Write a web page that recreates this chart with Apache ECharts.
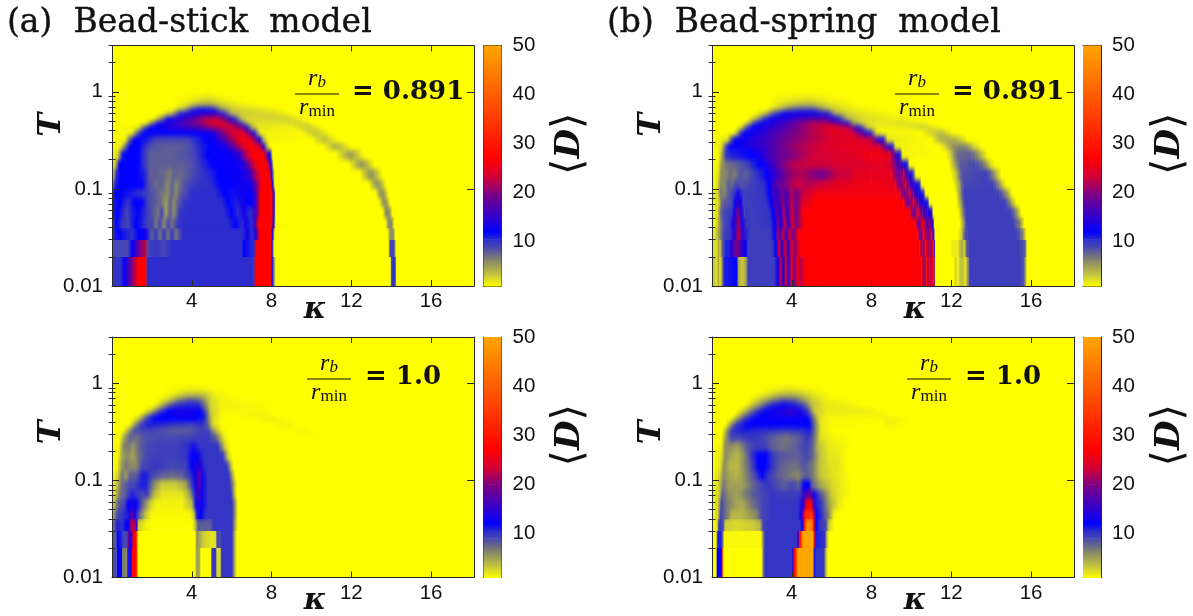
<!DOCTYPE html>
<html><head><meta charset="utf-8">
<style>html,body{margin:0;padding:0;background:#fff}#c{width:1193px;height:616px}</style>
<script src="https://cdn.jsdelivr.net/npm/echarts@6/dist/echarts.min.js"></script>
</head><body>
<svg width="0" height="0" style="position:absolute"><filter id="soft" x="-2%" y="-5%" width="104%" height="110%" color-interpolation-filters="sRGB"><feGaussianBlur stdDeviation="0.5 2.6"/></filter><filter id="crisp" x="-2%" y="-5%" width="104%" height="110%" color-interpolation-filters="sRGB"><feGaussianBlur stdDeviation="0.4 0.4"/></filter></svg>
<div id="c"></div>
<script>
// Lower and upper edge of every temperature row (shared by the four maps)
const tEdges=[.01,.02,.03,.04,.05,.065,.08,.1,.125,.16,.2,.25,.3,.35,.4,.45,.5,.56,.63,.7,.79,.9,1];
// Each row: kappa,D,kappa,D,... read along that temperature row
const rowsA=[
[0,10,.4,10,.6,12,1,20,1.3,27,1.72,27,1.74,10.5,7.08,10.5,7.2,27,7.95,27,8.02,12,8.1,7,8.2,1,13.95,1,14,10,14.2,10,14.25,1],
[0,9,.8,9,1,12,1.3,18,1.72,23,1.74,9,2.2,10,2.6,9,3,10.5,6.5,10.5,6.6,12,7.1,10.5,7.25,27,7.95,27,8.02,12,8.12,1,13.85,1,13.93,9,14.15,9,14.22,1],
[0,10,.3,12,1,10,1.3,12,1.7,13,1.9,9,2,8,2.2,10,2.4,7,2.6,10,2.8,7,3,10,3.2,7,3.5,10,3.6,10.5,6.5,10.5,6.8,13,7,10.5,7.2,14,7.4,27,7.95,27,8.05,12,8.15,1,13.8,1,13.95,6,14.1,6,14.2,1],
[0,9,.2,12,.5,10,.8,9,1,11,1.2,12,1.5,11,1.8,9,2,9,2.2,7,2.4,9,2.6,6,2.8,9,3,7,3.3,10,3.6,10.5,5.8,10.5,6.2,12,6.5,10.5,6.7,13,7,10.5,7.15,16,7.35,27,7.98,27,8.1,12,8.2,1,13.7,1,13.85,6,14.02,6,14.15,1],
[0,11,.3,12,.7,9,1,11,1.3,12,1.7,10,2.1,8,2.3,7,2.5,9,2.7,5,2.9,8,3.1,6,3.4,10,3.9,10.5,5.6,10.5,6,12,6.3,10.5,6.6,13,6.9,10.5,7.2,16,7.45,27,8,27,8.12,12,8.2,1,13.55,1,13.72,6,13.9,6,14.05,1],
[0,11,.4,12,.8,10,1.1,12,1.5,12,1.8,9,2.2,8,2.5,7,2.7,5,2.9,8,3.1,6,3.3,8,3.6,10,4,10.5,5.5,10.5,5.8,12,6.2,11,6.6,13,7,12,7.2,16,7.45,27,8,27,8.12,12,8.2,1,13.38,1,13.58,5.5,13.75,5.5,13.93,1],
[0,8,.1,12,.5,12,1.8,9,2.2,8,2.5,7,2.8,6,3,8,3.2,6,3.4,8,3.7,9,4,10.5,5.2,10.5,5.6,12,6,11.5,6.4,13,6.9,12,7.2,16,7.45,27,8,27,8.12,12,8.2,1,13.2,1,13.42,5.5,13.62,5.5,13.85,1],
[0,5,.15,11,.4,12,1.5,12,1.8,9,2.2,7.5,2.5,8,2.8,6,3,8,3.2,6,3.5,8,3.8,9,4.2,10,5,10.5,5.4,12,6,12,6.4,13,6.9,13,7.2,18,7.5,27,7.95,27,8.05,12,8.15,1,12.85,1,13.2,5.5,13.4,5.5,13.75,1],
[0,2,.2,10,.4,12,1.2,12,1.6,11,1.9,8,2.2,8,2.6,7.5,2.9,6.5,3.1,8,3.4,7.5,3.7,8,4.1,9,4.5,10,5,11,5.3,12,6,12.5,6.5,13,6.9,15,7.2,22,7.5,27,7.9,26,8,12,8.15,1,12.4,1,12.88,5.5,13.08,5.5,13.55,1],
[0,1,.2,5,.35,12,1.3,12,1.6,10,1.9,8,2.3,8,2.7,8,3.1,8,3.5,8,3.9,8.5,4.3,9.5,4.7,11,5,12,6.2,12.5,6.6,14,6.9,20,7.2,26,7.7,27,7.85,22,7.97,12,8.1,1,11.85,1,12.4,5.5,12.6,5.5,13.15,1],
[0,1,.3,3,.5,11,.7,12,1.3,12,1.6,10,1.9,8,2.3,8,3,8,3.6,8.5,4.1,9,4.5,11,4.8,12,5.9,12.5,6.4,15,6.8,23,7.1,27,7.6,27,7.8,16,7.92,12,8.05,1,11.2,1,11.82,5,12.02,5,12.65,1],
[0,1,.45,2,.7,8,.9,12,1.3,12,1.7,10,2,8.5,2.6,8,3.5,8,4,9,4.5,11,4.9,12,5.6,13,6.1,18,6.6,25,7,27,7.4,24,7.6,13,7.75,5,7.9,1,10.55,1,11.15,4.5,11.3,4.5,11.95,1],
[0,1,.65,1.5,.85,7,1.1,12,1.4,12,1.8,11,2.2,9,3,9,3.8,9,4.3,11,4.7,12,5.2,13,5.8,19,6.4,26,6.9,26,7.2,19,7.4,12,7.6,4,7.8,1.5,10,1,10.65,4,11.3,1],
[0,1,1,1.5,1.3,9,1.6,12,2.3,12,3.5,12,4.5,12,5,13,5.5,19,6,24,6.6,25,7,15,7.15,11,7.4,2,7.6,1.5,9.5,1.2,10.2,3.8,10.9,1],
[0,1,1.3,1.5,1.6,8,1.9,12,2.5,13,3.5,15,4.5,18,5.3,22,6,24,6.5,20,6.75,12,7,5,7.3,2,9.1,1.5,9.8,3.5,10.5,1],
[0,1,1.7,1,1.95,6,2.3,12,2.8,14,3.5,17,4.3,20,5,25,5.7,24,6.2,16,6.45,11,6.8,3,7.1,2.2,8.6,2,9.35,3.2,10.1,1],
[0,1,2.1,1,2.4,5,2.8,12,3.4,14,4,17,4.6,22,5.3,23,5.9,14,6.1,11,6.5,3,6.9,2.5,8.8,3,9.6,1],
[0,1,2.5,1,3,4,3.4,11,4,13,4.6,14,5.2,14,5.6,11,6,4,6.5,3,8.2,2.5,9,1],
[0,1,3,1,3.6,4,4,10,4.5,12,5.1,11,5.5,5,6.1,3,7.5,2,8.5,1],
[0,1,3,1,3.7,2,4.3,4.5,4.9,5,5.5,3,6.5,1.5,7.5,1],
[0,1,3,1,4,1.5,4.8,2.5,5.5,1.5,6.5,1],
[0,1,3.5,1,4.8,1.3,6,1]];
const rowsB=[
[0,1,.1,4,.2,1.5,.3,5,.4,2,.5,6,.6,11,1.25,12,1.3,5,1.5,3,1.7,5,1.8,9.5,3.1,9.5,3.3,12,3.45,25,3.55,12,3.7,26,3.8,13,4,27,4.1,18,4.3,27,4.4,22,4.7,27,10.5,27,10.65,20,10.75,27,10.9,22,11.1,27,11.15,20,11.2,1,12.1,1,12.2,3,12.3,1.5,12.5,4,12.7,2,12.85,7,12.92,9.5,15.5,9.5,15.65,8,15.78,1],
[0,1,.1,3,.2,1.5,.3,5,.4,3,.5,8,.7,11,.85,11,.95,14,1.2,20,1.5,15,1.7,12,1.8,9.5,3,9.5,3.2,12,3.35,24,3.5,13,3.65,25,3.8,14,4,26,4.15,20,4.4,27,10.4,27,10.55,20,10.7,27,10.9,20,11.1,27,11.15,14,11.2,1,11.9,1,12.1,2,12.3,1.5,12.5,5,12.65,3,12.75,8,12.85,9.5,15.45,9.5,15.7,8,15.78,1],
[0,1,.2,3,.4,6,.6,9.5,.9,10,1.1,14,1.3,22,1.5,16,1.7,11,1.9,9.5,2.9,9.5,3.15,12,3.3,22,3.4,14,3.55,24,3.7,15,3.9,25,4.05,18,4.3,26,4.7,27,10.3,27,10.45,17,10.6,27,10.8,18,11,24,11.1,12,11.18,1,12.3,1,12.5,3,12.65,8,12.8,9.5,15.3,9.5,15.6,6,15.75,1],
[0,1,.2,2,.4,6,.6,9,.9,10,1.05,13,1.3,21,1.5,14,1.72,10,2,9.5,2.9,10,3.12,12,3.3,20,3.45,13,3.65,23,3.8,15,4.05,24,4.2,19,4.6,27,10.2,27,10.35,17,10.55,27,10.75,18,10.95,20,11.08,12,11.15,1,12.4,1,12.6,5,12.75,9.5,15.1,9.5,15.45,6,15.65,1],
[0,1,.3,3,.4,7,.6,9,1,10,1.1,13,1.3,20,1.45,14,1.62,10,1.9,9.5,2.85,10,3.05,12,3.25,18,3.4,14,3.6,22,3.75,14,4,24,4.2,18,4.5,26,5,27,9.9,27,10.1,16,10.3,26,10.55,17,10.8,15,11,12,11.08,1,12.35,1,12.55,6,12.7,9.5,15,9.5,15.3,5,15.5,1],
[0,1,.35,3,.45,7,.6,8,1,9,1.15,12,1.3,15,1.45,12,1.55,9.5,2.7,10,2.95,12,3.15,17,3.3,14,3.55,21,3.7,15,4,23,4.2,18,4.5,24,5.2,27,9.6,27,9.8,16,10.1,25,10.35,16,10.6,13,10.82,11,10.9,1,12.25,1,12.5,6,12.65,9.5,14.7,9.5,15,5,15.25,1],
[0,1,.3,3,.4,7,.6,6,.8,8,1,9,1.2,11,1.3,13,1.4,11,1.6,9.5,2.6,10,2.9,12,3.05,16,3.25,15,3.5,19,3.7,16,4,22,4.2,19,4.6,23,5.3,26,9.4,26,9.6,17,9.9,24,10.1,17,10.35,13,10.6,11,10.7,1,12.2,1,12.45,6,12.6,9.5,14.4,9.5,14.8,5,15.05,1],
[0,1,.25,2,.4,6,.6,6,.8,8,1,7.5,1.2,9,1.5,8.5,1.8,9,2.6,10.5,2.85,12,3,15,3.3,18,3.6,19,4,22,4.3,23,4.8,22,5.3,23,5.8,24,6.5,25,8,26,9.2,25,9.4,18,9.7,24,9.9,17,10.15,13,10.4,11,10.5,1,12.1,1,12.4,5,12.6,9,14.1,9.5,14.5,4,14.75,1],
[0,1,.3,2,.45,6,.7,6,.9,7.5,1.1,6.5,1.4,8.5,1.7,8,2.1,9.5,2.5,11,2.75,12,3,14,3.4,17,4,21,4.5,22,5.1,20,5.5,19,5.9,21,6.3,23,6.8,23,7.2,25,8,25,9,25,9.3,18,9.6,22,9.85,14,10.05,11,10.22,1,11.95,1,12.25,4,12.5,8.5,13.8,9.5,14.2,5,14.5,1],
[0,1,.3,1.5,.45,5,.7,7,1,7.5,1.5,8.5,1.9,10,2.35,12,2.65,13,3.2,17,4,22,4.8,23,5.5,23,6.5,24,7.5,24,8.5,25,8.9,24,9.2,19,9.45,16,9.6,13,9.78,11,9.9,1,11.85,1,12.1,4,12.4,8,13.2,9,13.6,7,14,2,14.2,1],
[0,1,.3,1,.5,5,.7,10,1,11,1.5,11.5,1.9,12,2.3,13,3,17,4,20,5,23,6,24,7,24.5,8,26,8.9,25,9.25,14,9.43,11,9.55,1.5,11.7,1,11.95,3,12.25,7.5,13,8,13.4,5,13.8,1],
[0,1,.45,2,.65,8,.85,12,1.5,13,2.5,15,3.5,19,4.5,22,5.5,24,6.5,25,7.5,25,8.4,24,8.85,14,9.05,11,9.2,1.5,11.4,1,11.7,3,12.1,6,12.7,6.5,13.1,3,13.5,1],
[0,1,.75,2,.95,8,1.15,12,2,14,3,17,4,20,5,22,6,24,7,25,7.9,23,8.4,13,8.6,11,8.8,2,11,1,11.35,4,11.8,5,12.3,4,12.8,1],
[0,1,1,1,1.2,3,1.4,9,1.6,12,2.4,14,3.2,17,4,19,5,22,6,25,7,24,7.7,14,7.95,11,8.25,2,8.5,1.5,10.5,1,11,3,11.5,4,12,1.5,12.4,1],
[0,1,1.2,1,1.5,3,1.75,10,2.05,12,3,15,4,18,5,22,6,25,6.8,23,7.25,14,7.45,11,7.8,3,8.3,1.5,9,1.5,10,2,10.6,3,11.1,2,11.6,1],
[0,1,1.5,1,1.8,3,2.1,10,2.4,12,3,14,4,18,5,22,5.8,22,6.4,17,6.8,12,7.1,5,7.5,2.5,8.5,2,9.5,2.5,10.2,2,11,1],
[0,1,1.8,1,2.2,4,2.6,10,3,12,4,15,5,17,5.7,17,6.1,13,6.35,11,6.8,4,7.5,2.5,8.5,2,9.5,1.5,10.5,1],
[0,1,2.2,1,2.7,4,3.1,9,3.6,12,4.4,13,5.2,13,5.8,11,6.2,5,6.7,3,7.5,2,8.5,1.5,9.5,1],
[0,1,2.7,1,3.3,3.5,3.8,7,4.4,9,5,9,5.5,6,6,3,7,1.8,8.5,1],
[0,1,2.8,1,3.5,2.5,4.4,4,5,4,5.8,2.5,7,1.3,8,1],
[0,1,2.8,1,3.8,1.7,4.8,2.2,5.8,1.5,7,1],
[0,1,3.2,1,4.6,1.3,6,1]];
const rowsC=[
[0,9,.22,9,.25,12,.48,12,.52,7,.72,6,.76,11,.95,13,1,27,1.22,29,1.3,1,4.15,1,4.22,5,4.38,5,4.45,1,4.95,1,5,10,5.2,10,5.25,2.5,5.42,2.5,5.47,10,6,10,6.15,4,6.25,1],
[0,9,.2,8,.25,12,.45,11,.55,9,.75,9,.8,20,.95,12,1.05,27,1.2,28,1.3,1.5,1.4,1,4.15,1,4.25,6,4.55,3,5,2,5.2,2.5,5.25,9,5.42,9,5.5,10,6,10,6.15,4,6.25,1],
[0,7,.1,8,.25,11,.5,10,.7,12,.85,14,.95,22,1.15,22,1.25,13,1.3,3,1.7,1.5,2,1.1,4,1.1,4.15,3,4.3,8,4.9,8,5.1,10,6,10,6.15,5,6.3,1],
[0,3,.1,6,.25,9,.5,10,.75,11,.9,15,1,18,1.15,14,1.25,10,1.35,8,1.7,3,2,1.2,3.9,1.2,4.1,3,4.25,11,4.45,12,4.7,10,6,10,6.15,6,6.3,1],
[0,2,.15,5,.3,8,.6,9,.8,12,1,13,1.2,12,1.5,8,1.9,3,2.2,1.5,3.5,1.5,4,4,4.2,12,4.35,15,4.5,12,4.8,10,6,10,6.15,6,6.3,1],
[0,1,.2,4,.4,7,.65,8,.85,10,1,11,1.2,10,1.5,9,1.75,9.5,2.1,4,2.5,2,3.5,2,3.9,5,4.15,11,4.3,16,4.5,13,4.8,10,5.95,10,6.1,5,6.25,1],
[0,1,.2,3,.45,7,.65,8,.85,9,1.1,9,1.45,11,1.7,11,2.1,6,2.5,3,3.2,3,3.7,5,4,10,4.2,13,4.35,18,4.5,13,4.8,10,5.9,10,6.1,5,6.25,1],
[0,1,.25,2.5,.5,7,.7,5,.9,8,1.2,8,1.5,11,1.75,11,2,9,2.5,8,3,7.5,3.5,8,3.9,10,4.15,13,4.35,18,4.5,13,4.8,10,5.85,10,6.05,4,6.2,1],
[0,1,.25,1.5,.45,5,.7,7,.9,6,1.2,6,1.5,9,1.75,9,2.1,10,3,9,3.7,9.5,4,12,4.2,14,4.4,14,4.7,10,5.75,10,5.95,4,6.1,1],
[0,1,.3,1.5,.5,5,.75,6,1.05,5,1.3,7,1.7,9,2.2,9.5,3,9.5,3.7,10,4,12,4.3,12.5,4.6,10,5.55,10,5.8,3,6,1],
[0,1,.35,1.5,.55,6,.8,7,1.05,5.5,1.4,8,1.8,9,2.5,9.5,3.3,9.5,3.8,10.5,4.1,11.5,4.4,10,5.3,10,5.65,3,5.9,1],
[0,1,.35,1,.6,5,.9,8,1.2,7,1.6,8.5,2.4,9,3.3,9,3.9,9.5,4.8,10,5.2,8,5.55,2.5,5.8,1,10,1,10.3,1.2,10.6,1],
[0,1,.55,1,.8,5,1.1,9,1.5,9,2.1,9,3,8,3.8,8,4.5,9.5,4.85,9,5.2,4,5.5,1.5,5.8,1,9,1,9.6,1.4,10.1,1],
[0,1,.85,1,1.1,5,1.4,9.5,1.8,11,2.5,10.5,3.2,9.5,4,9,4.5,10,4.8,8,5,3,5.4,1.2,6,1,8,1,8.7,1.6,9.3,1],
[0,1,1,1,1.35,4,1.7,10,2.1,12,2.8,12,3.5,12,4.2,12,4.6,11,4.85,6,5.1,2,5.6,1,7.2,1,8,1.7,8.7,1],
[0,1,1.3,1,1.6,4,2,10,2.4,12,3,13,4,13,4.5,12,4.75,8.5,4.95,3.5,5.5,1.2,6.3,1.2,7.4,1.8,8.1,1],
[0,1,1.6,1,2,3.5,2.4,9,2.8,12,3.3,13,4,13.5,4.4,12,4.7,8,4.95,3,5.5,1.3,7,1.3,8,1],
[0,1,2,1,2.4,3,2.8,8,3.2,10.5,3.8,11,4.3,11,4.65,7,4.9,3,5.5,1.5,6.5,1.4,7.5,1.2,8.5,1],
[0,1,2.2,1,2.8,3,3.3,7,3.9,9,4.4,8,4.7,5,5,2.5,5.5,1.5,7,1.1,8,1],
[0,1,2.4,1,3.1,2,3.7,4,4.3,4.5,4.7,3.5,5.1,1.8,6,1],
[0,1,2.5,1,3.3,1.4,4,2,4.6,1.8,5.2,1.2,6,1],
[0,1,3,1,4,1.2,5,1]];
const rowsD=[
[0,1,.2,1,.25,12,.45,12,.5,25,.57,1,2.47,1,2.55,6,2.62,10,4,10,4.05,14,4.1,27,4.2,34,4.3,50,5.05,50,5.12,12,5.2,10,5.6,10,5.7,4,5.8,1],
[0,1,.2,1,.27,11,.45,11,.55,6,.6,1.3,2.45,1.3,2.55,6,2.65,10,4.25,10,4.3,12,4.38,27,4.47,35,4.55,50,5.05,50,5.12,25,5.2,11,5.65,10,5.75,4,5.85,1],
[0,1,.25,2,.33,10,.55,9,.65,3,1.2,2.5,2,3,2.4,4,2.55,9,2.8,10,4.4,10,4.55,12,4.6,28,4.75,46,5,46,5.1,28,5.2,12,5.4,10,5.7,9,5.85,3,6.1,1],
[0,1,.3,3,.4,9,.6,8,.9,5,1,4,1.5,4,2.2,6,2.5,9,3,10,4.3,10,4.45,12,4.6,24,4.7,33,5,35,5.1,24,5.2,12,5.5,10,5.85,6,6.1,1.5,6.4,1],
[0,1,.3,3,.45,9,.7,7,1.2,5,1.5,4.5,2,7,2.5,9,3,10,4.3,10,4.5,13,4.65,20,4.75,27,4.95,28,5.1,16,5.25,11,5.5,9.5,5.85,5,6.3,2,6.7,1],
[0,1,.35,3,.5,8,.8,6,1.2,5,1.5,6,2,8,2.5,9,3,10,4,9.5,4.4,10,4.6,16,4.95,18,5.1,13,5.3,10,5.7,6,6,3,6.5,1.7,7,1],
[0,1,.35,3,.55,7,.85,5,1.2,5,1.5,5,1.9,7,2.4,9,2.8,10,3.6,8,4,9,4.35,8,4.6,12,4.85,12,5,8,5.4,5,6,2.6,6.5,1.7,7,1],
[0,1,.4,3,.55,6,.85,5,1.2,4,1.5,5,1.8,7,2.2,9.5,2.5,12,2.8,10,3.3,8,3.8,7,4.3,6,4.7,8,5,7,5.4,3.5,6,2.2,6.5,1.7,6.9,1],
[0,1,.4,2,.6,6,.9,4,1.3,4,1.6,6,1.9,8,2.3,12,2.65,12,3,10,3.4,8,3.8,7.5,4.2,7,4.6,8.5,5,7,5.4,3.5,5.9,2.2,6.3,2,6.8,1],
[0,1,.45,2,.65,6,.9,5,1.3,4,1.6,6,1.9,9,2.3,12,2.7,12,3,10,3.4,8.5,3.9,8,4.3,8,4.7,9,5,8,5.4,3.5,5.9,2,6.3,1.9,6.8,1],
[0,1,.45,1.5,.65,6,.9,6,1.3,5,1.7,8,2.1,9.5,2.6,9.5,3,8,3.6,7,4.2,8,4.7,9.5,5,8,5.3,4,5.8,2,6.5,1.5,7,1],
[0,1,.45,1,.65,5,.95,9,1.4,9,1.9,10,2.5,9.5,3,8,3.7,7,4.3,8,4.8,10,5.1,7.5,5.4,2.5,6,1.5,7,1],
[0,1,.5,1,.75,6,1,10.5,1.6,11,2.3,10.5,3,10,3.7,9.5,4.4,10,4.9,11,5.15,7,5.45,2,6,1],
[0,1,.65,1,.9,5,1.2,10,1.7,12,2.5,12,3.3,12,4.2,12,4.9,12,5.15,7,5.45,2,6,1.2,8.5,1,8.9,1.5,9.3,1.3,9.8,1],
[0,1,.9,1,1.2,5,1.6,10,2.1,12,3,12.5,4,12.5,4.8,12,5.1,7,5.4,2,6,1.3,8.4,1,8.7,1.6,9.5,1.4,10,1],
[0,1,1.1,1,1.5,5,1.9,9.5,2.4,12,3,13,3.9,14.5,4.6,13,4.95,9,5.25,3,5.8,1.5,7.5,1.4,8.4,1.7,9,1],
[0,1,1.3,1,1.8,5,2.2,9,2.7,12,3.2,13,3.8,15,4.4,13,4.8,9,5.1,3,5.8,1.8,7,1.8,7.8,1.8,8.4,1],
[0,1,1.6,1,2.1,4,2.6,8,3,11,3.6,12,4.2,11,4.6,9,5,4,5.6,2,6.8,1.7,7.5,1],
[0,1,1.8,1,2.4,3.5,3,7,3.6,9,4.2,8,4.6,5.5,5,3,5.8,1.6,7,1],
[0,1,2,1,2.8,2.5,3.4,4.5,4,4.8,4.6,3.5,5.2,2,6,1],
[0,1,2.3,1,3,1.6,3.7,2.4,4.4,2,5,1.5,5.8,1],
[0,1,2.8,1,3.7,1.3,4.8,1]];

// Axes and colour scale
const xTickLabels=[4,8,12,16];
const yTickLabels=[0.01,0.1,1];
const yMinorTicks=[.02,.03,.04,.05,.06,.07,.08,.09,.2,.3,.4,.5,.6,.7,.8,.9,2,3];
const cbTickLabels=[10,20,30,40,50];
const paletteD=[1,3,6.5,9,10.5,12,20,23,27,50];
const paletteRGB=[[255,255,0],[205,205,55],[128,128,110],[70,70,180],[45,45,205],[0,0,255],[128,0,128],[205,0,60],[255,0,0],[255,165,0]];
const backgroundCell=[0,18.15,.01,3,1,1];

function colorOf(d){
  for(let i=1;i<paletteD.length;i++){
    if(d<=paletteD[i]){
      const f=(d-paletteD[i-1])/(paletteD[i]-paletteD[i-1]);
      const a=paletteRGB[i-1],b=paletteRGB[i];
      return 'rgb('+a.map((v,k)=>Math.round(v+(b[k]-v)*Math.max(f,0))).join(',')+')';
    }
  }
  return 'rgb(255,165,0)';
}
function segmentsOf(rows,from,to){
  const out=[];
  rows.forEach((r,i)=>{
    if(i<from||i>=to)return;
    for(let k=0;k+3<r.length;k+=2){
      out.push([r[k],r[k+2],tEdges[i],tEdges[i+1],r[k+1],r[k+3]]);
    }
  });
  return out;
}
function renderCell(params,api){
  const a=api.coord([api.value(0),api.value(2)]);
  const b=api.coord([api.value(1),api.value(3)]);
  const x0=a[0],x1=b[0]+.4,y0=Math.round(b[1]),y1=Math.round(a[1]);
  return {type:'rect',shape:{x:x0,y:y0,width:Math.max(x1-x0,.5),height:y1-y0},
    style:{fill:new echarts.graphic.LinearGradient(0,0,1,0,[{offset:0,color:colorOf(api.value(4))},{offset:1,color:colorOf(api.value(5))}])},silent:true};
}
function renderBar(params,api){
  const a=api.coord([0,api.value(0)]);
  const b=api.coord([1,api.value(1)]);
  return {type:'rect',shape:{x:a[0],y:b[1],width:b[0]-a[0],height:a[1]-b[1]+.5},
    style:{fill:new echarts.graphic.LinearGradient(0,0,0,1,[{offset:0,color:colorOf(api.value(1))},{offset:1,color:colorOf(api.value(0))}])},silent:true};
}

const panels=[
 {rows:rowsA,left:112,top:45.5,cb:483.5,tShift:82,dShift:44},
 {rows:rowsB,left:712,top:45.5,cb:1083,tShift:82,dShift:44},
 {rows:rowsC,left:112,top:337,cb:483.5,tShift:50,dShift:44},
 {rows:rowsD,left:712,top:337,cb:1083,tShift:50,dShift:44}
];
const W=362,H=240.5,CW=18,SHARP_TO=4,SOFT_FROM=3,AXZ=2;
const lineStyle={color:'#2a2a2a',width:1};
const labelFont={fontFamily:'Liberation Sans',fontSize:20.5,color:'#111'};
const mathFont='DejaVu Serif';
const grid=[],xAxis=[],yAxis=[],series=[];
const barLevels=paletteD.slice(0,-1).map((d,i)=>[d,paletteD[i+1]]);

panels.forEach(p=>{
  const g=grid.length;
  grid.push({left:p.left,top:p.top,width:W,height:H,show:false,outerBoundsMode:'none'});
  const x0=xAxis.length;
  xAxis.push({zlevel:AXZ,gridIndex:g,type:'value',min:0,max:18.15,position:'bottom',
    name:'κ',nameLocation:'middle',nameGap:9,nameMoveOverlap:false,
    nameTextStyle:{fontFamily:mathFont,fontWeight:'bold',fontStyle:'italic',fontSize:30,color:'#111',padding:[0,0,0,44],verticalAlign:'top'},
    axisLine:{show:true,onZero:false,lineStyle},splitLine:{show:false},
    axisTick:{inside:true,length:6,lineStyle,customValues:xTickLabels},
    axisLabel:{...labelFont,margin:5,customValues:xTickLabels}});
  xAxis.push({zlevel:AXZ,gridIndex:g,type:'value',min:0,max:18.15,position:'top',
    axisLine:{show:true,onZero:false,lineStyle},splitLine:{show:false},
    axisTick:{inside:true,length:6,lineStyle,customValues:xTickLabels},axisLabel:{show:false}});
  const y0=yAxis.length;
  yAxis.push({zlevel:AXZ,gridIndex:g,type:'log',logBase:10,min:.01,max:3,position:'left',
    name:'T',nameLocation:'middle',nameRotate:90,nameGap:44,nameMoveOverlap:false,
    nameTextStyle:{fontFamily:mathFont,fontWeight:'bold',fontStyle:'italic',fontSize:32,color:'#111',padding:[0,0,0,p.tShift]},
    axisLine:{show:true,onZero:false,lineStyle},splitLine:{show:false},minorTick:{show:false},
    axisTick:{inside:true,length:7,lineStyle,customValues:yTickLabels},
    axisLabel:{...labelFont,margin:9,customValues:yTickLabels,formatter:v=>String(+(+v).toPrecision(3))}});
  yAxis.push({zlevel:AXZ,gridIndex:g,type:'log',logBase:10,min:.01,max:3,position:'right',
    axisLine:{show:true,onZero:false,lineStyle},splitLine:{show:false},minorTick:{show:false},
    axisTick:{inside:true,length:7,lineStyle,customValues:yTickLabels},axisLabel:{show:false}});
  ['left','right'].forEach(pos=>yAxis.push({zlevel:AXZ,gridIndex:g,type:'log',logBase:10,min:.01,max:3,position:pos,
    axisLine:{show:false},splitLine:{show:false},minorTick:{show:false},
    axisTick:{inside:true,length:3.5,lineStyle,customValues:yMinorTicks},axisLabel:{show:false}}));
  const base={type:'custom',xAxisIndex:x0,yAxisIndex:y0,coordinateSystem:'cartesian2d',clip:true,silent:true,
    animation:false,progressive:0,renderItem:renderCell,encode:{x:[0,1],y:[2,3]}};
  series.push({...base,zlevel:0,z:1,data:[backgroundCell,...segmentsOf(p.rows,0,SHARP_TO)]});
  series.push({...base,zlevel:1,z:1,data:segmentsOf(p.rows,SOFT_FROM,p.rows.length)});

  // colour bar
  const gc=grid.length;
  grid.push({left:p.cb,top:p.top,width:CW,height:H,show:false,outerBoundsMode:'none'});
  const xc=xAxis.length;
  xAxis.push({zlevel:AXZ,gridIndex:gc,type:'value',min:0,max:1,position:'bottom',axisLine:{show:true,onZero:false,lineStyle},axisTick:{show:false},axisLabel:{show:false},splitLine:{show:false}});
  xAxis.push({zlevel:AXZ,gridIndex:gc,type:'value',min:0,max:1,position:'top',axisLine:{show:true,onZero:false,lineStyle},axisTick:{show:false},axisLabel:{show:false},splitLine:{show:false}});
  const yc=yAxis.length;
  yAxis.push({zlevel:AXZ,gridIndex:gc,type:'value',min:1,max:50,position:'right',
    name:'{b|⟨}{d|D}{b|⟩}',nameLocation:'middle',nameRotate:90,nameGap:48,nameMoveOverlap:false,
    nameTextStyle:{padding:[0,0,0,p.dShift],rich:{b:{fontFamily:'DejaVu Sans',fontSize:42,color:'#111'},d:{fontFamily:mathFont,fontWeight:'bold',fontStyle:'italic',fontSize:34,color:'#111'}}},
    axisLine:{show:true,onZero:false,lineStyle},splitLine:{show:false},
    axisTick:{inside:true,length:5,lineStyle,customValues:cbTickLabels},
    axisLabel:{...labelFont,margin:11,customValues:cbTickLabels}});
  yAxis.push({zlevel:AXZ,gridIndex:gc,type:'value',min:1,max:50,position:'left',
    axisLine:{show:true,onZero:false,lineStyle},splitLine:{show:false},
    axisTick:{inside:true,length:5,lineStyle,customValues:cbTickLabels},axisLabel:{show:false}});
  series.push({type:'custom',zlevel:AXZ,xAxisIndex:xc,yAxisIndex:yc,coordinateSystem:'cartesian2d',silent:true,animation:false,
    renderItem:renderBar,encode:{y:[0,1]},data:barLevels,z:1});
});

function fraction(cx,lineY,eqX,valueText){
  const serif='Liberation Serif';
  return [
   {type:'text',zlevel:AXZ,z:50,style:{x:cx,y:lineY-3,align:'center',verticalAlign:'bottom',text:'{r|r}{s|b}',
     rich:{r:{fontFamily:serif,fontStyle:'italic',fontSize:24,fill:'#111'},s:{fontFamily:serif,fontStyle:'italic',fontSize:17,fill:'#111',verticalAlign:'bottom'}}}},
   {type:'line',zlevel:AXZ,z:50,shape:{x1:cx-22,y1:lineY,x2:cx+22,y2:lineY},style:{stroke:'#111',lineWidth:1}},
   {type:'text',zlevel:AXZ,z:50,style:{x:cx,y:lineY+2,align:'center',verticalAlign:'top',text:'{r|r}{s|min}',
     rich:{r:{fontFamily:serif,fontStyle:'italic',fontSize:24,fill:'#111'},s:{fontFamily:serif,fontSize:17,fill:'#111',verticalAlign:'bottom'}}}},
   {type:'text',zlevel:AXZ,z:50,style:{x:eqX,y:lineY-2,align:'left',verticalAlign:'middle',text:valueText,
     fontFamily:'DejaVu Serif',fontWeight:'bold',fontSize:26,fill:'#111'}}
  ];
}

const option={
 animation:false,backgroundColor:'#fff',
 title:[
  {zlevel:AXZ,text:'(a)  Bead-stick  model',left:2,top:2,textStyle:{fontFamily:'DejaVu Serif',fontWeight:'normal',fontSize:33,color:'#111',textBorderColor:'#111',textBorderWidth:.4}},
  {zlevel:AXZ,text:'(b)  Bead-spring  model',left:602,top:2,textStyle:{fontFamily:'DejaVu Serif',fontWeight:'normal',fontSize:33,color:'#111',textBorderColor:'#111',textBorderWidth:.4}}
 ],
 grid,xAxis,yAxis,series,
 graphic:{elements:[
  ...fraction(317,94,352,'= 0.891'),
  ...fraction(329,379,365,'= 1.0'),
  ...fraction(917,94,952,'= 0.891'),
  ...fraction(929,379,965,'= 1.0')
 ]}
};
const chart=echarts.init(document.getElementById('c'),null,{renderer:'canvas'});
chart.setOption(option);

// Same smoothing role as the interpolated surface of the original: only the map layers are filtered
const plotClip=panels.map(p=>'M'+p.left+' '+p.top+'h'+W+'v'+H+'h-'+W+'Z').join(' ');
[['zr_0','crisp'],['zr_1','soft']].forEach(([id,f])=>{
  const cv=document.querySelector('#c canvas[data-zr-dom-id="'+id+'"]');
  if(cv){cv.style.filter='url(#'+f+')';cv.style.clipPath='path("'+plotClip+'")';}
});
</script></body></html>
